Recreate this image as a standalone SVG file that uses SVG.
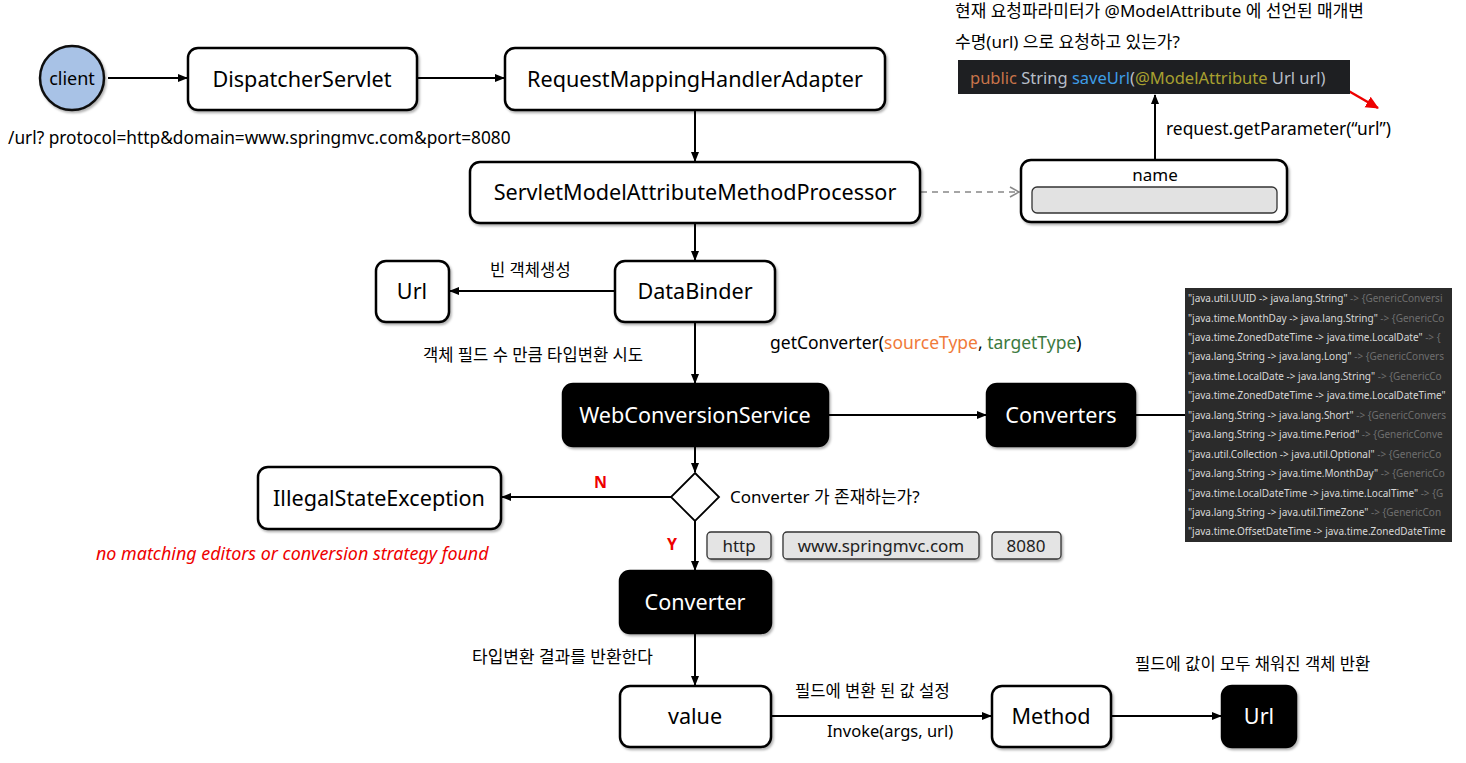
<svg xmlns="http://www.w3.org/2000/svg" width="1466" height="763" viewBox="0 0 1466 763">
<style>
  text { font-family: "Noto Sans", "Noto Sans CJK KR", sans-serif; fill: #000; }
  .box { fill: #fff; stroke: #000; stroke-width: 2.5; filter: url(#sh); }
  .dark { fill: #000; stroke: #000; stroke-width: 2.5; filter: url(#sh); }
  .lbl { font-size: 21.6px; text-anchor: middle; }
  .wl { font-size: 21.6px; text-anchor: middle; fill: #fff; }
  .note { font-size: 17px; }
  .kr { font-size: 16.6px; }
  .edge { stroke: #000; stroke-width: 2; fill: none; marker-end: url(#ah); }
  .chip { fill: #e4e4e4; stroke: #333; stroke-width: 1.3; filter: url(#sh); }
  .chipt { font-size: 17px; text-anchor: middle; fill: #222; }
  .cl { font-size: 10px; fill: #d8d8d8; }
  .cd { fill: #6e6e6e; }
</style>
<defs>
  <marker id="ah" markerWidth="10" markerHeight="10" refX="9" refY="5" orient="auto" markerUnits="userSpaceOnUse">
    <path d="M0,1 L10,5 L0,9 Z" fill="#000"/>
  </marker>
  <marker id="ahg" markerWidth="12" markerHeight="12" refX="10" refY="6" orient="auto" markerUnits="userSpaceOnUse">
    <path d="M1,1 L10,6 L1,11" fill="none" stroke="#888" stroke-width="1.5"/>
  </marker>
  <marker id="ahr" markerWidth="14" markerHeight="14" refX="12" refY="7" orient="auto" markerUnits="userSpaceOnUse">
    <path d="M0,1 L13,7 L0,13 Z" fill="#e00"/>
  </marker>
  <filter id="sh" x="-10%" y="-10%" width="120%" height="130%">
    <feDropShadow dx="1.5" dy="2" stdDeviation="1.2" flood-color="#000" flood-opacity="0.3"/>
  </filter>
  <clipPath id="clipList"><rect x="1185" y="288" width="267" height="254"/></clipPath>
</defs>

<g id="connectors">
  <line class="edge" x1="108" y1="78" x2="187" y2="78"/>
  <line class="edge" x1="418" y1="78" x2="504" y2="78"/>
  <line class="edge" x1="695" y1="111" x2="695" y2="161"/>
  <line x1="921" y1="192" x2="1019" y2="192" stroke="#888" stroke-width="1.5" stroke-dasharray="6,5" marker-end="url(#ahg)"/>
  <line class="edge" x1="1155" y1="160" x2="1155" y2="95"/>
  <line x1="1340" y1="86" x2="1378" y2="108" stroke="#e00" stroke-width="2.5" marker-end="url(#ahr)"/>
  <line class="edge" x1="695" y1="224" x2="695" y2="260"/>
  <line class="edge" x1="614" y1="291" x2="450" y2="291"/>
  <line class="edge" x1="695" y1="323" x2="695" y2="383"/>
  <line class="edge" x1="829" y1="415" x2="986" y2="415"/>
  <line x1="1136" y1="415" x2="1186" y2="415" stroke="#000" stroke-width="2"/>
  <line class="edge" x1="695" y1="447" x2="695" y2="472"/>
  <line class="edge" x1="671" y1="497" x2="502" y2="497"/>
  <line class="edge" x1="695" y1="521" x2="695" y2="570"/>
  <line class="edge" x1="695" y1="634" x2="695" y2="685"/>
  <line class="edge" x1="772" y1="716" x2="991" y2="716"/>
  <line class="edge" x1="1112" y1="716" x2="1221" y2="716"/>
</g>

<g id="client">
  <circle cx="72" cy="78" r="32" fill="#a8c2e6" stroke="#111" stroke-width="2.5" filter="url(#sh)"/>
  <text x="72" y="85" font-size="18" text-anchor="middle">client</text>
</g>
<text x="8" y="144" font-size="17.3">/url? protocol=http&amp;domain=www.springmvc.com&amp;port=8080</text>

<g id="dispatcherServlet">
  <rect class="box" x="188" y="48" width="229" height="62" rx="10"/>
  <text class="lbl" x="302" y="87">DispatcherServlet</text>
</g>
<g id="requestMappingHandlerAdapter">
  <rect class="box" x="505" y="48" width="380" height="62" rx="10"/>
  <text class="lbl" x="695" y="87">RequestMappingHandlerAdapter</text>
</g>
<g id="servletModelAttributeMethodProcessor">
  <rect class="box" x="470" y="162" width="450" height="61" rx="10"/>
  <text class="lbl" x="695" y="200">ServletModelAttributeMethodProcessor</text>
</g>

<g id="nameBox">
  <rect class="box" x="1021" y="160" width="266" height="62" rx="10"/>
  <text x="1155" y="181" font-size="17" text-anchor="middle">name</text>
  <rect x="1032" y="187" width="245" height="26" rx="5" fill="#e2e2e2" stroke="#333" stroke-width="1.3"/>
</g>

<g id="codeBox">
  <rect x="958" y="60" width="392" height="34" fill="#1e1f22"/>
  <text x="970" y="84" font-size="16.5" font-family="Liberation Sans, Arial, sans-serif"><tspan fill="#c8744a">public</tspan><tspan fill="#b8bec8"> String </tspan><tspan fill="#3e9de6">saveUrl</tspan><tspan fill="#b8bec8">(</tspan><tspan fill="#a8a030">@ModelAttribute</tspan><tspan fill="#b8bec8"> Url url)</tspan></text>
</g>
<text class="note" x="955" y="17">현재 요청파라미터가 @ModelAttribute 에 선언된 매개변</text>
<text class="note" x="955" y="48">수명(url) 으로 요청하고 있는가?</text>
<text x="1166" y="135" font-size="17.4">request.getParameter(“url”)</text>

<g id="dataBinder">
  <rect class="box" x="615" y="261" width="160" height="61" rx="10"/>
  <text class="lbl" x="695" y="299">DataBinder</text>
</g>
<g id="urlBean">
  <rect class="box" x="376" y="261" width="73" height="61" rx="10"/>
  <text class="lbl" x="412" y="299">Url</text>
</g>
<text class="kr" x="490" y="276">빈 객체생성</text>
<text class="kr" x="423" y="361">객체 필드 수 만큼 타입변환 시도</text>
<text x="770" y="349" font-size="17.5">getConverter(<tspan fill="#f07a3a">sourceType</tspan>, <tspan fill="#3c7a40">targetType</tspan>)</text>

<g id="webConversionService">
  <rect class="dark" x="563" y="384" width="265" height="62" rx="10"/>
  <text class="wl" x="695" y="423">WebConversionService</text>
</g>
<g id="converters">
  <rect class="dark" x="987" y="384" width="148" height="62" rx="10"/>
  <text class="wl" x="1061" y="423">Converters</text>
</g>

<g id="converterList">
  <rect x="1185" y="288" width="267" height="254" fill="#2b2b2b"/>
  <g clip-path="url(#clipList)">
    <text class="cl" x="1188" y="302">"java.util.UUID -&gt; java.lang.String" <tspan class="cd">-&gt; {GenericConversi</tspan></text>
    <text class="cl" x="1188" y="322">"java.time.MonthDay -&gt; java.lang.String" <tspan class="cd">-&gt; {GenericCo</tspan></text>
    <text class="cl" x="1188" y="341">"java.time.ZonedDateTime -&gt; java.time.LocalDate" <tspan class="cd">-&gt; {</tspan></text>
    <text class="cl" x="1188" y="360">"java.lang.String -&gt; java.lang.Long" <tspan class="cd">-&gt; {GenericConvers</tspan></text>
    <text class="cl" x="1188" y="380">"java.time.LocalDate -&gt; java.lang.String" <tspan class="cd">-&gt; {GenericCo</tspan></text>
    <text class="cl" x="1188" y="399">"java.time.ZonedDateTime -&gt; java.time.LocalDateTime"</text>
    <text class="cl" x="1188" y="419">"java.lang.String -&gt; java.lang.Short" <tspan class="cd">-&gt; {GenericConvers</tspan></text>
    <text class="cl" x="1188" y="438">"java.lang.String -&gt; java.time.Period" <tspan class="cd">-&gt; {GenericConve</tspan></text>
    <text class="cl" x="1188" y="458">"java.util.Collection -&gt; java.util.Optional" <tspan class="cd">-&gt; {GenericCo</tspan></text>
    <text class="cl" x="1188" y="477">"java.lang.String -&gt; java.time.MonthDay" <tspan class="cd">-&gt; {GenericCo</tspan></text>
    <text class="cl" x="1188" y="497">"java.time.LocalDateTime -&gt; java.time.LocalTime" <tspan class="cd">-&gt; {G</tspan></text>
    <text class="cl" x="1188" y="516">"java.lang.String -&gt; java.util.TimeZone" <tspan class="cd">-&gt; {GenericCon</tspan></text>
    <text class="cl" x="1188" y="535">"java.time.OffsetDateTime -&gt; java.time.ZonedDateTime</text>
  </g>
</g>

<g id="decision">
  <polygon points="695,473 719,497 695,521 671,497" fill="#fff" stroke="#000" stroke-width="1.8"/>
  <text x="730" y="503" font-size="17">Converter 가 존재하는가?</text>
</g>
<text x="594" y="488" font-size="16" font-weight="bold" style="fill:#e00">N</text>
<text x="667" y="550" font-size="16" font-weight="bold" style="fill:#e00">Y</text>

<g id="illegalStateException">
  <rect class="box" x="258" y="467" width="243" height="62" rx="10"/>
  <text class="lbl" x="379" y="506">IllegalStateException</text>
</g>
<text x="96" y="560" font-size="17.9" font-style="italic" style="fill:#e00">no matching editors or conversion strategy found</text>

<g id="chips">
  <rect class="chip" x="707" y="532" width="64" height="27" rx="4"/>
  <text class="chipt" x="739" y="552">http</text>
  <rect class="chip" x="783" y="532" width="196" height="27" rx="4"/>
  <text class="chipt" x="881" y="552">www.springmvc.com</text>
  <rect class="chip" x="992" y="532" width="69" height="27" rx="4"/>
  <text class="chipt" x="1026" y="552">8080</text>
</g>

<g id="converter">
  <rect class="dark" x="620" y="571" width="151" height="62" rx="10"/>
  <text class="wl" x="695" y="610">Converter</text>
</g>
<text x="472" y="663" font-size="17">타입변환 결과를 반환한다</text>

<g id="value">
  <rect class="box" x="620" y="686" width="151" height="61" rx="10"/>
  <text class="lbl" x="695" y="724">value</text>
</g>
<text class="kr" x="795" y="697">필드에 변환 된 값 설정</text>
<text x="827" y="737" font-size="16.5">Invoke(args, url)</text>

<g id="method">
  <rect class="box" x="992" y="686" width="119" height="61" rx="10"/>
  <text class="lbl" x="1051" y="724">Method</text>
</g>
<g id="urlResult">
  <rect class="dark" x="1222" y="686" width="74" height="61" rx="10"/>
  <text class="wl" x="1259" y="724">Url</text>
</g>
<text class="kr" x="1135" y="670">필드에 값이 모두 채워진 객체 반환</text>
</svg>
